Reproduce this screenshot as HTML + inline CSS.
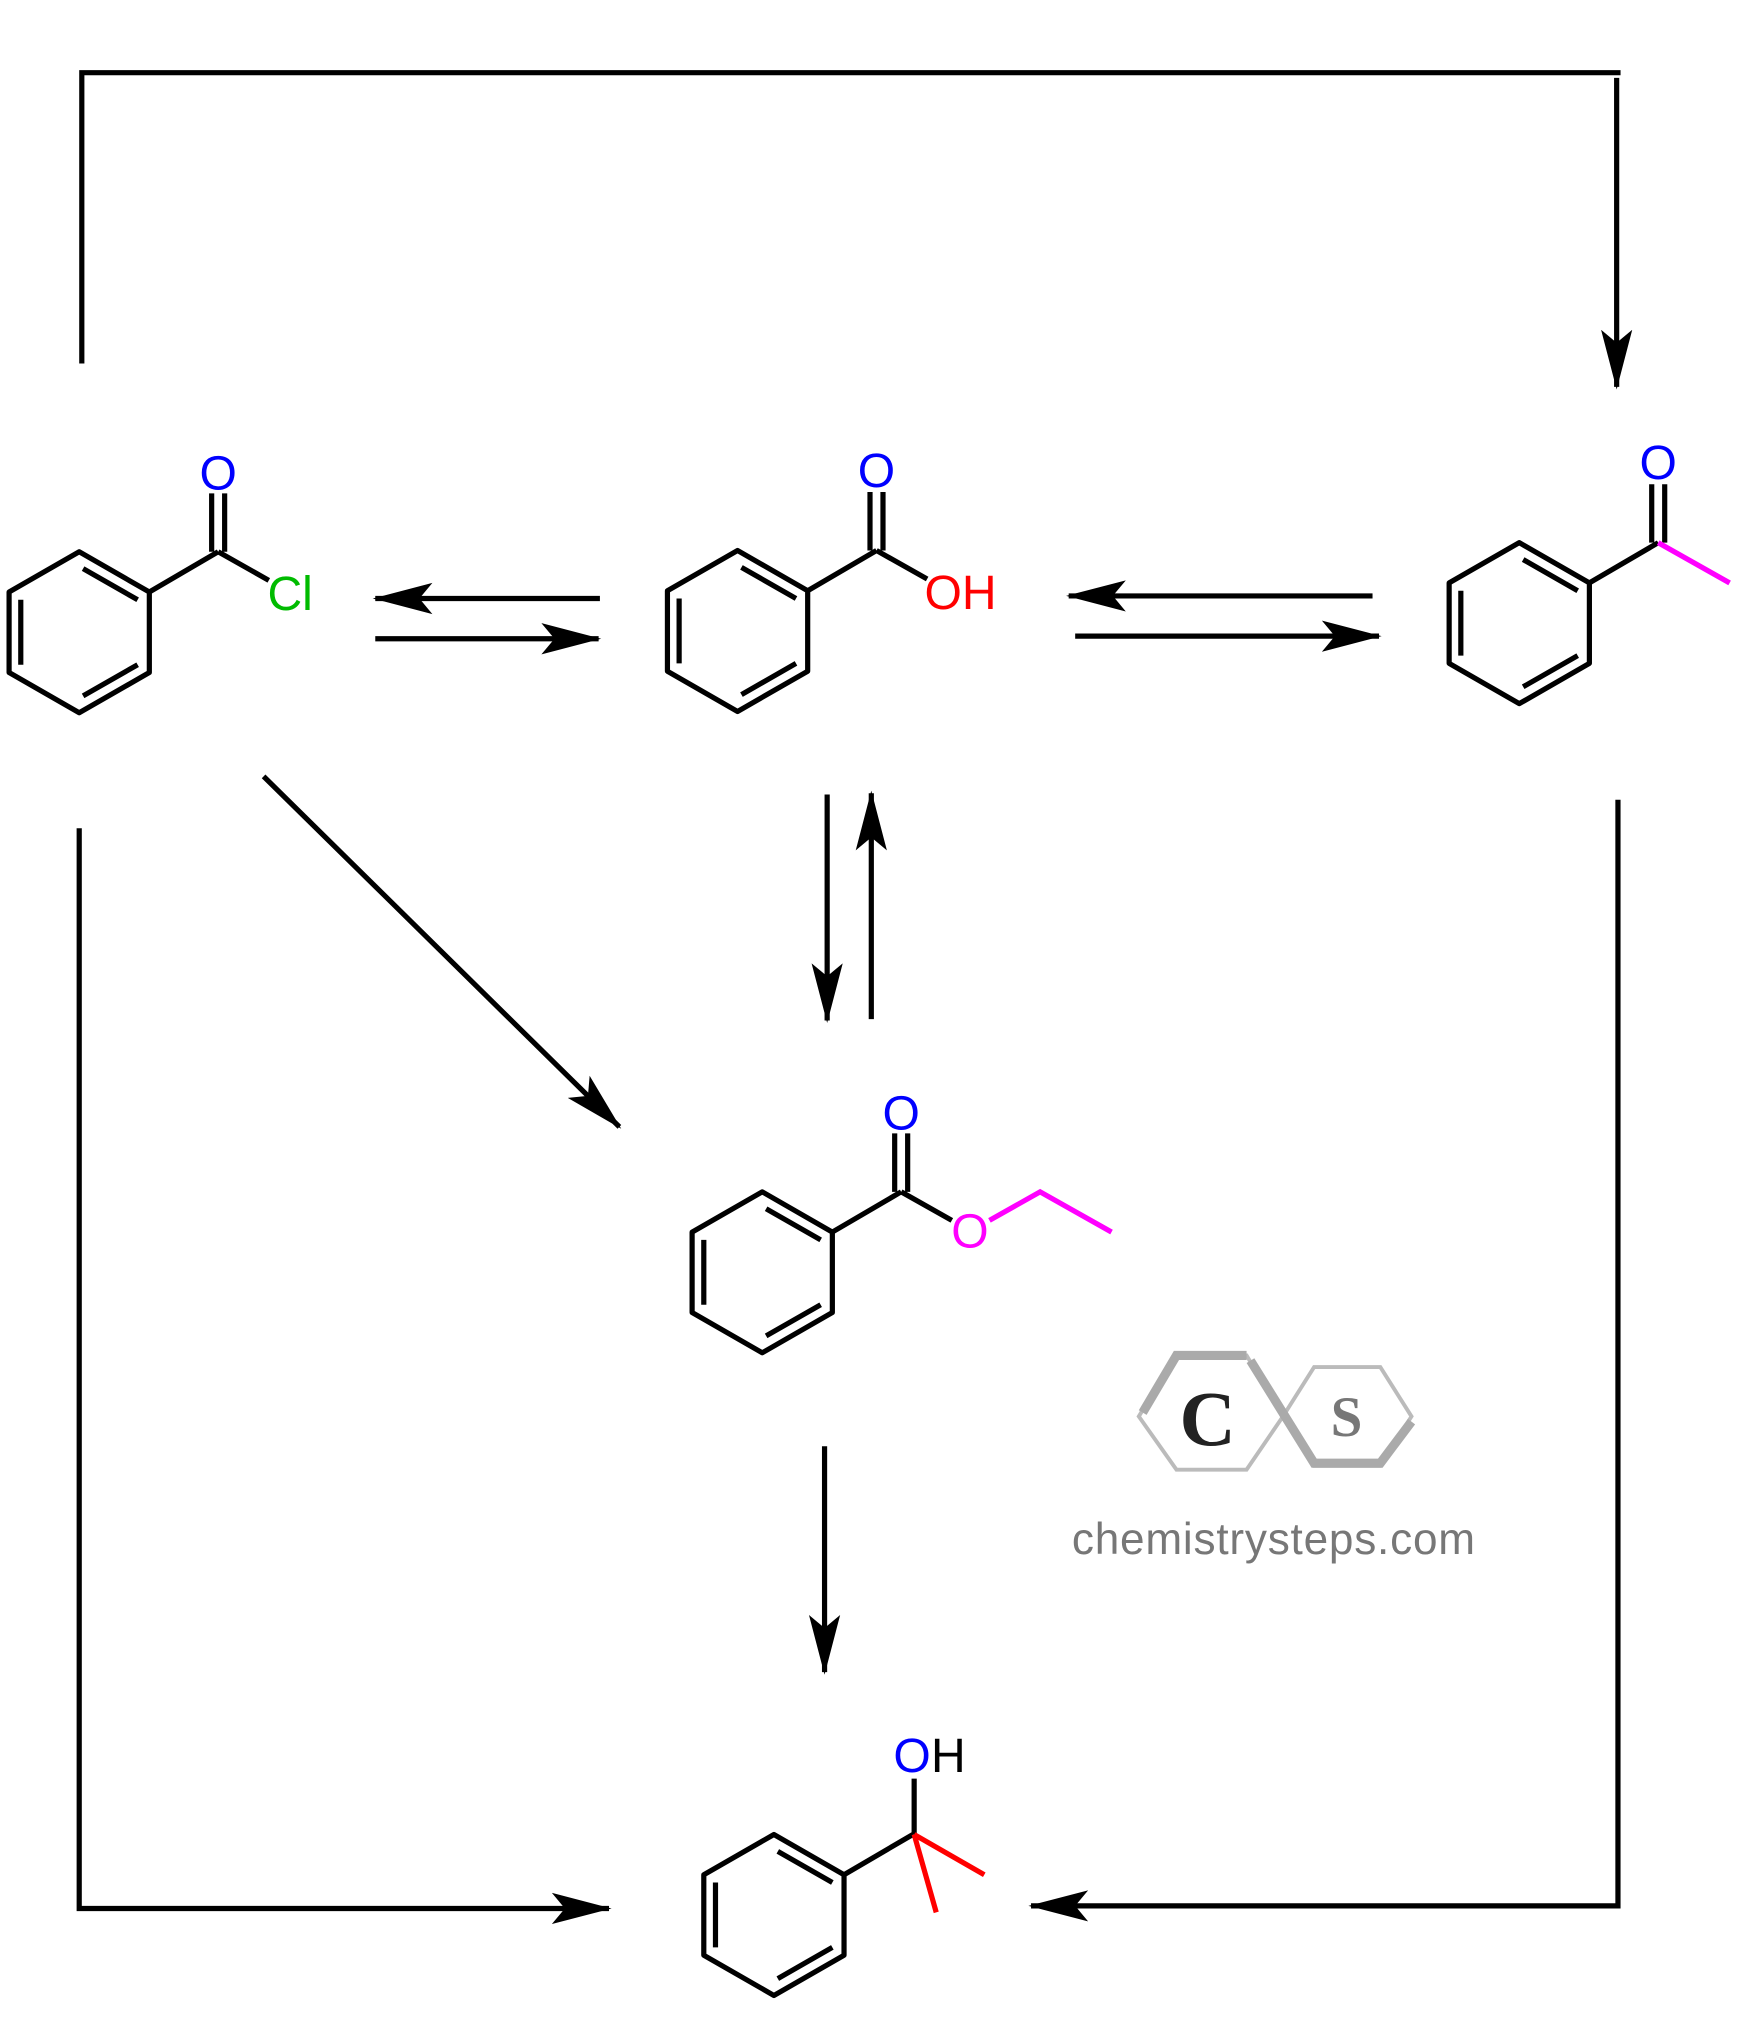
<!DOCTYPE html>
<html><head><meta charset="utf-8"><style>html,body{margin:0;padding:0;background:#fff}svg{display:block}</style></head><body>
<svg width="1753" height="2037" viewBox="0 0 1350 1569" preserveAspectRatio="none" xmlns="http://www.w3.org/2000/svg">
<defs>
<marker id="ah" markerWidth="48" markerHeight="26" refX="44" refY="13" orient="auto" markerUnits="userSpaceOnUse">
<path d="M0,1 L46,13 L0,25 L10,13 Z" fill="#000"/>
</marker>
<g id="ring" stroke="#000" stroke-width="4" fill="none" stroke-linejoin="round">
<path d="M0,0 L54,31 L54,93 L0,124 L-54,93 L-54,31 Z"/>
<path d="M3,13 L45,37 M45,87 L3,111 M-45,37 L-45,87"/>
<path d="M54,31 L107,0"/>
</g>
</defs>
<g stroke="#000" stroke-width="4" fill="none">
<polyline points="63,280 63,56 1248,56"/>
<line x1="1245" y1="60" x2="1245" y2="298" marker-end="url(#ah)"/>
<line x1="462" y1="461" x2="289" y2="461" marker-end="url(#ah)"/>
<line x1="289" y1="492" x2="461" y2="492" marker-end="url(#ah)"/>
<line x1="1057" y1="459" x2="823" y2="459" marker-end="url(#ah)"/>
<line x1="828" y1="490" x2="1062" y2="490" marker-end="url(#ah)"/>
<line x1="637" y1="612" x2="637" y2="786" marker-end="url(#ah)"/>
<line x1="671" y1="785" x2="671" y2="611" marker-end="url(#ah)"/>
<line x1="203" y1="598" x2="477" y2="868" marker-end="url(#ah)"/>
<line x1="635" y1="1114" x2="635" y2="1288" marker-end="url(#ah)"/>
<polyline points="61,638 61,1470 469,1470" marker-end="url(#ah)"/>
<polyline points="1246,616 1246,1468 794,1468" marker-end="url(#ah)"/>
</g>
<g transform="translate(61,425)"><use href="#ring"/>
<path d="M102,-45 L102,0 M112,-45 L112,0 M107,0 L146,22" stroke="#000" stroke-width="4"/></g>
<g transform="translate(568,424)"><use href="#ring"/>
<path d="M102,-45 L102,0 M112,-45 L112,0 M107,0 L146,22" stroke="#000" stroke-width="4"/></g>
<g transform="translate(1170,418)"><use href="#ring"/>
<path d="M102,-45 L102,0 M112,-45 L112,0" stroke="#000" stroke-width="4"/>
<path d="M107,0 L162,31" stroke="#f0f" stroke-width="4"/></g>
<g transform="translate(587,918)"><use href="#ring"/>
<path d="M102,-45 L102,0 M112,-45 L112,0 M107,0 L146,22" stroke="#000" stroke-width="4"/>
<path d="M175,22 L214,0 L269,31" stroke="#f0f" stroke-width="4" fill="none"/></g>
<g transform="translate(596,1413)"><use href="#ring"/>
<path d="M108,0 L108,-43" stroke="#000" stroke-width="4"/>
<path d="M108,0 L162,31 M108,0 L125,60" stroke="#f00" stroke-width="4"/></g>
<g font-family="Liberation Sans, sans-serif" font-size="37">
<text x="168" y="377" fill="#00f" text-anchor="middle">O</text>
<text x="206" y="470" fill="#0b0">Cl</text>
<text x="675" y="375" fill="#00f" text-anchor="middle">O</text>
<text x="712" y="469" fill="#f00">OH</text>
<text x="1277" y="369" fill="#00f" text-anchor="middle">O</text>
<text x="694" y="870" fill="#00f" text-anchor="middle">O</text>
<text x="747" y="961" fill="#f0f" text-anchor="middle">O</text>
<text x="688" y="1365" fill="#00f">O</text><text x="717" y="1365" fill="#000">H</text>
</g>
<g stroke-width="3" fill="none">
<path d="M877,1091 L906,1044 L960,1044 L988,1091 L960,1132 L906,1132 Z" stroke="#bbb"/>
<path d="M880,1088 L906,1044 L960,1044" stroke="#aaa" stroke-width="7"/>
<path d="M988,1091 L1012,1053 L1063,1053 L1087,1091 L1063,1129 L1012,1129 Z" stroke="#bbb"/>
<path d="M963,1048 L1012,1127 L1063,1127 L1087,1095" stroke="#aaa" stroke-width="7"/>
</g>
<text x="930" y="1113" font-family="Liberation Serif, serif" font-weight="bold" font-size="60" fill="#222" text-anchor="middle">C</text>
<text x="1037" y="1106" font-family="Liberation Serif, serif" font-weight="bold" font-size="44" fill="#777" text-anchor="middle">S</text>
<text x="981" y="1197" font-family="Liberation Sans, sans-serif" font-size="34" fill="#777" text-anchor="middle" letter-spacing="0.6">chemistrysteps.com</text>
</svg>
</body></html>
